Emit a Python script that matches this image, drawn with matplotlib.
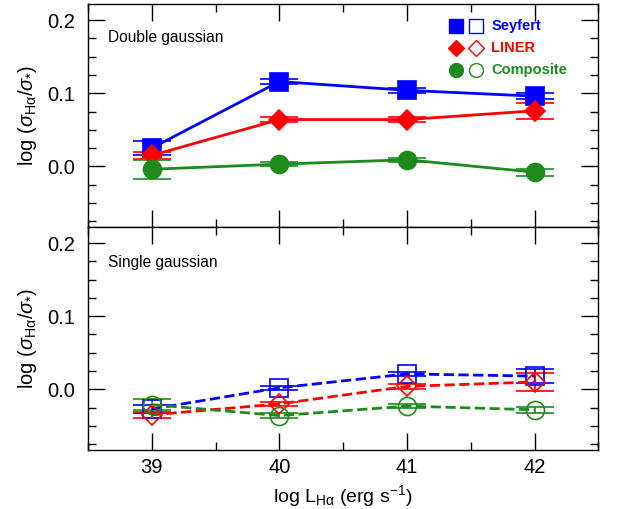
import numpy as np
import matplotlib
matplotlib.use("Agg")
import matplotlib.pyplot as plt
from matplotlib.ticker import MultipleLocator

plt.rcParams['font.family'] = ['Liberation Sans', 'DejaVu Sans']
plt.rcParams['mathtext.fontset'] = 'custom'
plt.rcParams['mathtext.rm'] = 'Liberation Sans'
plt.rcParams['mathtext.it'] = 'Liberation Sans:italic'

# data
logL = [39, 40, 41, 42]

# double gaussian (top)
sey_dg = [0.025, 0.116, 0.104, 0.096]
sey_dg_err = [0.010, 0.003, 0.003, 0.004]
lin_dg = [0.015, 0.064, 0.064, 0.076]
lin_dg_err = [0.005, 0.003, 0.003, 0.011]
com_dg = [-0.004, 0.003, 0.009, -0.008]
com_dg_err = [0.013, 0.003, 0.003, 0.005]

# single gaussian (bottom)
sey_sg = [-0.027, 0.002, 0.021, 0.018]
sey_sg_err = [0.005, 0.003, 0.003, 0.010]
lin_sg = [-0.035, -0.020, 0.004, 0.010]
lin_sg_err = [0.004, 0.003, 0.003, 0.012]
com_sg = [-0.021, -0.036, -0.023, -0.028]
com_sg_err = [0.008, 0.003, 0.003, 0.004]

blue = '#0000ff'
red = '#ff0000'
green = '#1e8a1e'

fig, (ax1, ax2) = plt.subplots(2, 1, figsize=(6.42, 5.09), dpi=100, sharex=True)
fig.subplots_adjust(left=0.137, right=0.932, top=0.992, bottom=0.116, hspace=0)

def series(ax, y, err, color, marker, ms, filled, ls):
    ax.errorbar(logL, y, yerr=err, color=color, ls=ls, lw=2, marker=marker, ms=ms,
                mfc=color if filled else 'none', mec=color, mew=1.2,
                ecolor=color, elinewidth=1.2, capsize=14, capthick=1.2)

series(ax1, sey_dg, sey_dg_err, blue, 's', 13, True, '-')
series(ax1, lin_dg, lin_dg_err, red, 'D', 10, True, '-')
series(ax1, com_dg, com_dg_err, green, 'o', 13, True, '-')

series(ax2, sey_sg, sey_sg_err, blue, 's', 13, False, '--')
series(ax2, lin_sg, lin_sg_err, red, 'D', 10, False, '--')
series(ax2, com_sg, com_sg_err, green, 'o', 13, False, '--')

ylab = r'log ($\sigma_{\rm H\alpha}/\sigma_{*}$)'
for ax in (ax1, ax2):
    ax.set_xlim(38.5, 42.5)
    ax.set_ylim(-0.083, 0.222)
    ax.xaxis.set_major_locator(MultipleLocator(1))
    ax.xaxis.set_minor_locator(MultipleLocator(0.5))
    ax.yaxis.set_major_locator(MultipleLocator(0.1))
    ax.yaxis.set_minor_locator(MultipleLocator(0.025))
    ax.tick_params(which='both', direction='in', top=True, right=True, labelsize=14.5, width=1)
    ax.tick_params(which='major', length=12)
    ax.tick_params(which='minor', length=6)
    ax.tick_params(axis='y', pad=9)
    ax.tick_params(axis='x', pad=6)
    ax.set_yticks([0.0, 0.1, 0.2])
    ax.set_yticklabels(['0.0', '0.1', '0.2'])
    ax.set_ylabel(ylab, fontsize=14.5, labelpad=6)
    for s in ax.spines.values():
        s.set_linewidth(1)

ax1.text(0.04, 0.852, 'Double gaussian', transform=ax1.transAxes, fontsize=11.2, va='center')
ax2.text(0.04, 0.843, 'Single gaussian', transform=ax2.transAxes, fontsize=11.2, va='center')

ax2.set_xlabel(r'log L$_{\rm H\alpha}$ (erg s$^{-1}$)', fontsize=14)

# legend built by hand
leg = [('Seyfert', blue, 's', 10), ('LINER', red, 'D', 8), ('Composite', green, 'o', 10)]
for i, (name, c, m, ms) in enumerate(leg):
    yy = 0.9 - i * 0.097
    ax1.plot([0.722], [yy], marker=m, ms=ms, color=c, mec=c, transform=ax1.transAxes, ls='none')
    ax1.plot([0.76], [yy], marker=m, ms=ms, mfc='none', mec=c, mew=1, transform=ax1.transAxes, ls='none')
    ax1.text(0.79, yy, name, color=c, fontsize=10.5, fontweight='bold', va='center', transform=ax1.transAxes)

fig.savefig('out.png', dpi=100)
